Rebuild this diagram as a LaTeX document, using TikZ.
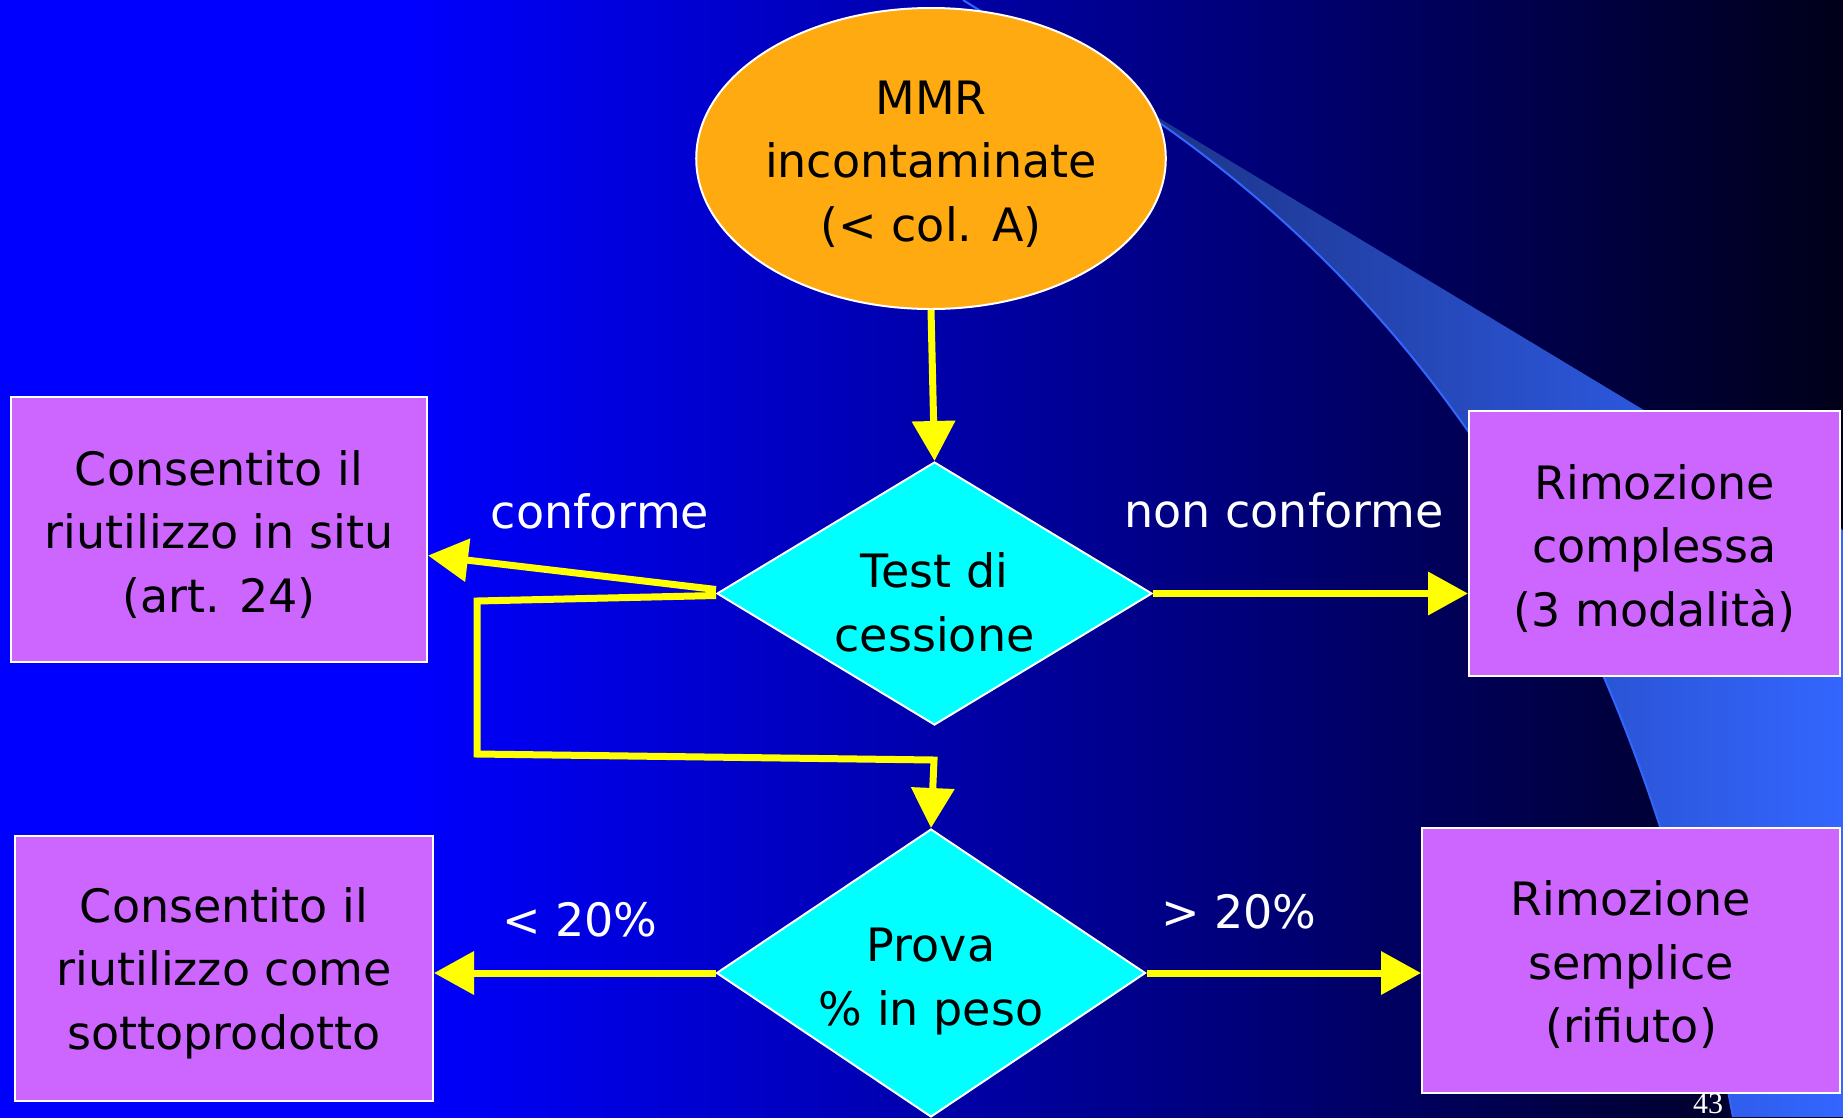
\documentclass[tikz,border=0pt]{standalone}
\usepackage{fontspec}
\setmainfont{DejaVu Sans}
\newfontfamily\numfont{Liberation Serif}
\usetikzlibrary{shapes.geometric,arrows.meta}
\definecolor{bgblue}{RGB}{0,0,255}
\definecolor{bgdark}{RGB}{0,0,25}
\definecolor{ribdark}{RGB}{22,38,105}
\definecolor{ribmid}{RGB}{42,80,205}
\definecolor{riblight}{RGB}{51,102,255}
\definecolor{mmrorange}{RGB}{255,170,17}
\definecolor{testcyan}{RGB}{0,255,255}
\definecolor{resviolet}{RGB}{204,102,255}
\definecolor{flowyellow}{RGB}{255,255,0}
\pgfdeclarehorizontalshading{slidebg}{100bp}{color(0bp)=(bgblue); color(36bp)=(bgblue); color(75bp)=(bgdark); color(100bp)=(bgdark)}
\newcommand{\slidefont}{\fontsize{46pt}{63.5pt}\selectfont}
\newcommand{\slideW}{1843}
\newcommand{\slideH}{1117}
\newcommand{\lift}[1]{\rule{0pt}{#1}}

\begin{document}
\begin{tikzpicture}[
      x=1pt, y=-1pt, %one unit is one pixel of the slide
      outline/.style={draw=white, line width=2pt, inner sep=0pt, align=center, font=\slidefont},
      start/.style={outline, ellipse, fill=mmrorange, minimum width=468pt, minimum height=301pt},
      test/.style={outline, diamond, fill=testcyan},
      result/.style={outline, rectangle, fill=resviolet, minimum height=265pt},
      flow/.style={draw=flowyellow, line width=7pt, -{Triangle[length=40pt,width=42pt]}},
      answer/.style={text=white, font=\slidefont, anchor=base},
      pagenum/.style={text=white, font=\numfont\fontsize{30pt}{30pt}\selectfont, anchor=south}
    ]
    \useasboundingbox (0,0) rectangle (\slideW,\slideH);
    \clip (0,0) rectangle (\slideW,\slideH);
    % Background and ribbon
    \shade[shading=slidebg] (0,0) rectangle (\slideW,\slideH);
    \shade[left color=ribdark, middle color=ribmid, right color=riblight]
      (963,0) -- (\slideW,530) -- (\slideW,\slideH) -- (1733,\slideH)
      .. controls (1657,717) and (1507,366) .. (1157,121) -- cycle;
    \draw[riblight, line width=2pt] (963,0) -- (1157,121)
      .. controls (1507,366) and (1657,717) .. (1733,\slideH);
    % Draw the nodes
    \node[start] (mmr) at (931,158.5) {\lift{45pt}MMR\\incontaminate\\(< col. A)};
    \node[test, aspect=1.65, minimum width=435pt, minimum height=263pt] (test) at (934.5,593.5) {\lift{53pt}Test di\\cessione};
    \node[test, aspect=1.49, minimum width=429pt, minimum height=288pt] (prova) at (931,973) {\lift{51pt}Prova\\\% in peso};
    \node[result, minimum width=416pt] (reuse) at (219,529.5) {\lift{45pt}Consentito il\\riutilizzo in situ\\(art. 24)};
    \node[result, minimum width=371pt] (rimC) at (1654.5,543.5) {\lift{45pt}Rimozione\\complessa\\(3 modalità)};
    \node[result, minimum width=418pt] (sotto) at (224,968) {\lift{45pt}Consentito il\\riutilizzo come\\sottoprodotto};
    \node[result, minimum width=418pt] (rimS) at (1631,960) {\lift{45pt}Rimozione\\semplice\\(rifiuto)};
    % Corners of the way down
    \coordinate (bendA) at (477,601);
    \coordinate (bendB) at (477,754);
    \coordinate (bendC) at (934,760);
    % Draw the arrows
    \draw[flow] (mmr.south) -- (test.north);
    \draw[flow] ([yshift=4pt]test.west) -- ([yshift=-26pt]reuse.east);
    \draw[flow] ([yshift=-2pt]test.west) -- (bendA) -- (bendB) -- (bendC) -- (prova.north);
    \draw[flow] (test.east) -- (test.east -| rimC.west);
    \draw[flow] (prova.west) -- (prova.west -| sotto.east);
    \draw[flow] (prova.east) -- (prova.east -| rimS.west);
    % Answers
    \node[answer] (yes) at (600,528) {conforme};
    \node[answer] (no) at (1284,527) {non conforme};
    \node[answer] (less) at (580,936) {< 20\%};
    \node[answer] (more) at (1239,928) {> 20\%};
    \node[pagenum] (num) at (1708,1117) {43};
\end{tikzpicture}
\end{document}
